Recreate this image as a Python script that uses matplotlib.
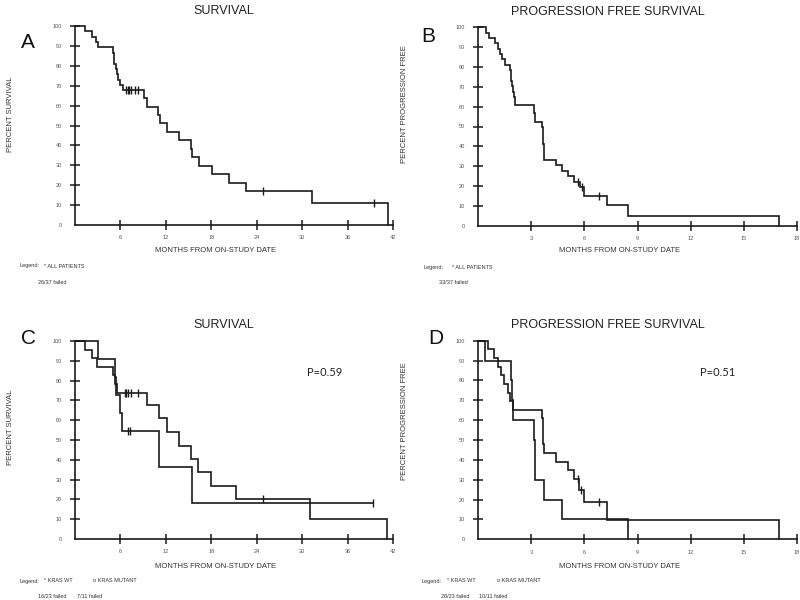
import numpy as np
import matplotlib
matplotlib.use("Agg")
import matplotlib.pyplot as plt

plt.rcParams['font.family'] = ['Liberation Sans', 'DejaVu Sans']

# ---------------- data ----------------
# Panel A: overall survival, all patients
A_times = [1.3, 2.2, 2.8, 3.1, 4.97, 5.1, 5.2, 5.35, 5.5, 5.7, 6.0, 6.35, 9.1, 9.46,
           11.0, 11.2, 12.2, 13.8, 15.3, 15.5, 16.4, 18.05, 20.4, 22.6, 31.3, 41.3]
A_surv = [97.3, 94.6, 91.9, 89.2, 86.5, 83.8, 81.1, 78.4, 75.7, 73.0, 70.3, 67.6, 63.7, 59.5,
          55.5, 51.2, 46.9, 42.6, 38.4, 34.2, 29.8, 25.5, 21.3, 17.1, 11.2, 0]
A_cens_t = [6.8, 7.0, 7.15, 7.35, 7.9, 8.35, 24.8, 39.5]
A_cens_s = [67.6, 67.6, 67.6, 67.6, 67.6, 67.6, 17.1, 11.2]

# Panel B: progression free survival, all patients
B_times = [0.43, 0.62, 0.94, 1.13, 1.23, 1.32, 1.5, 1.79, 1.83, 1.87, 1.91, 1.95, 2.0, 2.07,
           3.16, 3.2, 3.62, 3.64, 3.66, 3.68, 3.7, 3.72, 3.74, 4.39, 4.71, 5.05, 5.42, 5.75,
           5.99, 7.26, 8.48, 17.0]
B_surv = [97.3, 94.6, 91.9, 89.2, 86.5, 83.8, 81.1, 78.4, 75.7, 73.0, 70.3, 67.6, 64.9, 60.8,
          56.8, 52.4, 49.6, 46.8, 44.1, 41.3, 38.6, 35.8, 33.1, 30.5, 27.7, 25.0, 22.2, 19.5,
          15.1, 10.2, 4.9, 0]
B_cens_t = [5.65, 5.85, 6.82]
B_cens_s = [22.2, 19.5, 15.1]

# Panel C: survival by KRAS status
C_wt_times = [1.3, 2.2, 2.9, 5.05, 5.3, 5.5, 9.46, 11.1, 12.1, 13.8, 15.3, 16.3, 18.0, 21.2, 31.1, 41.2]
C_wt_surv = [95.7, 91.3, 87.0, 82.6, 78.3, 73.9, 67.7, 60.9, 54.2, 47.1, 40.4, 33.7, 26.9, 20.1, 10.0, 0]
C_wt_cens_t = [6.6, 6.8, 7.0, 7.35, 8.3, 24.8]
C_wt_cens_s = [73.9, 73.9, 73.9, 73.9, 73.9, 20.1]
C_mut_times = [3.07, 5.3, 5.45, 5.94, 6.24, 11.1, 15.4]
C_mut_surv = [90.9, 81.8, 72.7, 63.6, 54.5, 36.4, 18.2]
C_mut_cens_t = [7.0, 7.2, 39.4]
C_mut_cens_s = [54.5, 54.5, 18.2]

# Panel D: progression free survival by KRAS status
D_wt_times = [0.57, 0.89, 1.1, 1.26, 1.47, 1.66, 1.79, 1.98, 3.62, 3.64, 3.66, 3.68, 3.7,
              4.39, 5.05, 5.41, 5.7, 5.99, 7.26, 17.0]
D_wt_surv = [95.7, 91.3, 87.0, 82.6, 78.3, 73.9, 69.6, 65.2, 60.9, 56.5, 52.2, 47.8, 43.5,
             39.1, 34.8, 30.4, 25.0, 19.0, 9.5, 0]
D_wt_cens_t = [5.62, 5.8, 6.82]
D_wt_cens_s = [30.4, 25.0, 19.0]
D_mut_times = [0.38, 1.85, 1.9, 1.98, 3.16, 3.18, 3.2, 3.73, 4.71, 8.47]
D_mut_surv = [90, 80, 70, 60, 50, 40, 30, 20, 10, 0]
D_mut_cens_t = []
D_mut_cens_s = []

os_xticks = [6, 12, 18, 24, 30, 36, 42]
pfs_xticks = [3, 6, 9, 12, 15, 18]
yticks = [0, 10, 20, 30, 40, 50, 60, 70, 80, 90, 100]

# ---------------- figure ----------------
W, H = 800, 600
fig = plt.figure(figsize=(8, 6), dpi=100)
LC = '#1a1a1a'


def fx(x):
    return x / W


def fy(y):
    return 1 - y / H


def make_ax(left, top, right, bottom, xmax, xticks):
    ax = fig.add_axes([fx(left), fy(bottom), fx(right - left), (bottom - top) / H])
    ax.set_xlim(0, xmax)
    ax.set_ylim(0, 100)
    for s in ('top', 'right'):
        ax.spines[s].set_visible(False)
    for s in ('left', 'bottom'):
        ax.spines[s].set_linewidth(1.2)
        ax.spines[s].set_color(LC)
    ax.set_xticks(xticks)
    ax.set_xticklabels([str(t) for t in xticks])
    ax.set_yticks(yticks)
    ax.set_yticklabels([str(t) for t in yticks])
    ax.tick_params(axis='both', direction='inout', length=7, width=1.1, color=LC,
                   labelsize=4, labelcolor='#555555')
    ax.tick_params(axis='y', pad=6)
    ax.tick_params(axis='x', pad=4)
    ax.yaxis.get_major_ticks()[0].tick1line.set_visible(False)
    ax.patch.set_alpha(0)
    return ax


def km(ax, times, surv, ct, cs):
    t = [0] + list(times)
    s = [100] + list(surv)
    end = max(list(times) + list(ct))
    if end > t[-1]:
        t.append(end)
        s.append(s[-1])
    ax.step(t, s, where='post', color=LC, lw=1.2, clip_on=False, solid_joinstyle='miter')
    if ct:
        ax.plot(ct, cs, ls='none', marker='|', ms=6, mew=1.0, color=LC, clip_on=False)


def label_texts(title, tx, ty, letter, lx, ly, ylab, ylx, yly, xlx, xly):
    fig.text(fx(tx), fy(ty), title, ha='center', va='center', fontsize=9, color='#222222')
    fig.text(fx(lx), fy(ly), letter, ha='center', va='center', fontsize=15, color='#111111')
    fig.text(fx(ylx), fy(yly), ylab, ha='center', va='center', rotation=90, fontsize=5.5,
             color='#333333')
    fig.text(fx(xlx), fy(xly), 'MONTHS FROM ON-STUDY DATE', ha='center', va='center',
             fontsize=5.5, color='#333333')


# Panel A
axA = make_ax(75, 26, 393, 225, 42, os_xticks)
km(axA, A_times, A_surv, A_cens_t, A_cens_s)
label_texts('SURVIVAL', 224, 11, 'A', 27.5, 43, 'PERCENT SURVIVAL', 11, 114, 216, 250)
fig.text(fx(20), fy(266), 'Legend:', fontsize=4, va='center', color='#333333')
fig.text(fx(44), fy(266), '* ALL PATIENTS', fontsize=4, va='center', color='#333333')
fig.text(fx(38), fy(282), '26/37 failed', fontsize=4, va='center', color='#333333')

# Panel B
axB = make_ax(478.3, 27.3, 796.7, 225.7, 18, pfs_xticks)
km(axB, B_times, B_surv, B_cens_t, B_cens_s)
label_texts('PROGRESSION FREE SURVIVAL', 607.5, 12, 'B', 428, 37, 'PERCENT PROGRESSION FREE',
            405, 104, 620, 251)
fig.text(fx(423), fy(267), 'Legend:', fontsize=4, va='center', color='#333333')
fig.text(fx(452), fy(267), '* ALL PATIENTS', fontsize=4, va='center', color='#333333')
fig.text(fx(439), fy(283), '33/37 failed', fontsize=4, va='center', color='#333333')

# Panel C
axC = make_ax(75, 341, 393, 539, 42, os_xticks)
km(axC, C_wt_times, C_wt_surv, C_wt_cens_t, C_wt_cens_s)
km(axC, C_mut_times, C_mut_surv, C_mut_cens_t, C_mut_cens_s)
label_texts('SURVIVAL', 224, 325, 'C', 28, 338, 'PERCENT SURVIVAL', 11, 427, 216, 566)
fig.text(fx(325), fy(372), 'P=0.59', ha='center', va='center', fontsize=8,
         family=['Lato', 'DejaVu Sans'], color='#222222')
fig.text(fx(20), fy(581), 'Legend:', fontsize=4, va='center', color='#333333')
fig.text(fx(44), fy(581), '* KRAS WT', fontsize=4, va='center', color='#333333')
fig.text(fx(93), fy(581), 'o KRAS MUTANT', fontsize=4, va='center', color='#333333')
fig.text(fx(38), fy(596), '16/23 failed', fontsize=4, va='center', color='#333333')
fig.text(fx(77), fy(596), '7/11 failed', fontsize=4, va='center', color='#333333')

# Panel D
axD = make_ax(478.3, 340.7, 796.7, 539.3, 18, pfs_xticks)
km(axD, D_wt_times, D_wt_surv, D_wt_cens_t, D_wt_cens_s)
km(axD, D_mut_times, D_mut_surv, D_mut_cens_t, D_mut_cens_s)
label_texts('PROGRESSION FREE SURVIVAL', 607.5, 325, 'D', 435.5, 338,
            'PERCENT PROGRESSION FREE', 405, 421, 620, 566)
fig.text(fx(718), fy(372), 'P=0.51', ha='center', va='center', fontsize=8,
         family=['Lato', 'DejaVu Sans'], color='#222222')
fig.text(fx(422), fy(581), 'Legend:', fontsize=4, va='center', color='#333333')
fig.text(fx(447), fy(581), '* KRAS WT', fontsize=4, va='center', color='#333333')
fig.text(fx(497), fy(581), 'o KRAS MUTANT', fontsize=4, va='center', color='#333333')
fig.text(fx(441), fy(596), '20/23 failed', fontsize=4, va='center', color='#333333')
fig.text(fx(479), fy(596), '10/11 failed', fontsize=4, va='center', color='#333333')

fig.savefig('out.png', dpi=100)
